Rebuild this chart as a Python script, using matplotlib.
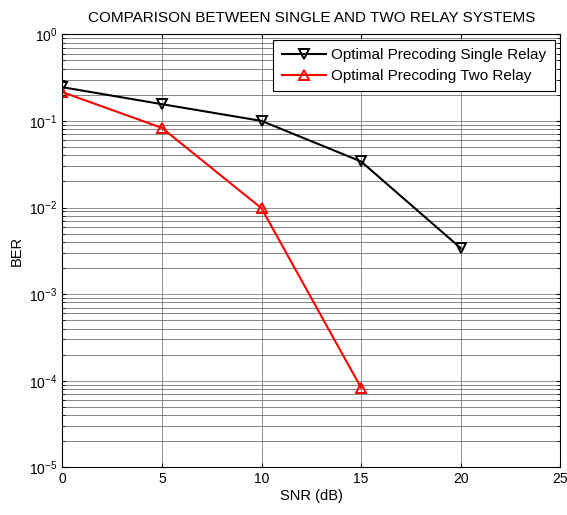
import numpy as np
from matplotlib import pyplot as plt

plt.rcParams['font.family'] = ['Liberation Sans', 'DejaVu Sans']
plt.rcParams['mathtext.fontset'] = 'custom'
plt.rcParams['mathtext.rm'] = 'Liberation Sans'
plt.rcParams['axes.unicode_minus'] = False

snr_single = [0, 5, 10, 15, 20]
ber_single = [0.245, 0.156, 0.1, 0.034, 0.0034]
snr_two = [0, 5, 10, 15]
ber_two = [0.215, 0.083, 0.0098, 8.3e-5]

fig = plt.figure(figsize=(5.67, 5.15), dpi=100)
ax = fig.add_axes([0.110, 0.0926, 0.878, 0.8408])

ax.semilogy(snr_single, ber_single, color='black', lw=1.5, marker='v', ms=7,
            mfc='none', mew=1.4, label='Optimal Precoding Single Relay')
ax.semilogy(snr_two, ber_two, color='red', lw=1.5, marker='^', ms=7,
            mfc='none', mew=1.4, label='Optimal Precoding Two Relay')

ax.set_xlim(0, 25)
ax.set_ylim(1e-5, 1)
ax.set_xticks([0, 5, 10, 15, 20, 25])

# сетка в стиле MATLAB
ax.grid(True, which='major', color='#909090', lw=0.7)
ax.grid(True, which='minor', axis='y', color='#707070', lw=0.6)
ax.tick_params(which='both', direction='in', top=True, right=True, labelsize=10)
ax.tick_params(which='major', length=3)
ax.tick_params(which='minor', length=2)

ax.set_xlabel('SNR (dB)', fontsize=10.5, labelpad=2)
ax.set_ylabel('BER', fontsize=10.5, labelpad=4)
ax.set_title('COMPARISON BETWEEN SINGLE AND TWO RELAY SYSTEMS', fontsize=11, pad=9)

leg = ax.legend(loc='upper right', fontsize=11, fancybox=False, framealpha=1,
                edgecolor='black', borderaxespad=0.35, handlelength=2.9,
                handletextpad=0.35, borderpad=0.55, labelspacing=0.45)
leg.get_frame().set_linewidth(0.8)

fig.savefig('out.png', dpi=100)
